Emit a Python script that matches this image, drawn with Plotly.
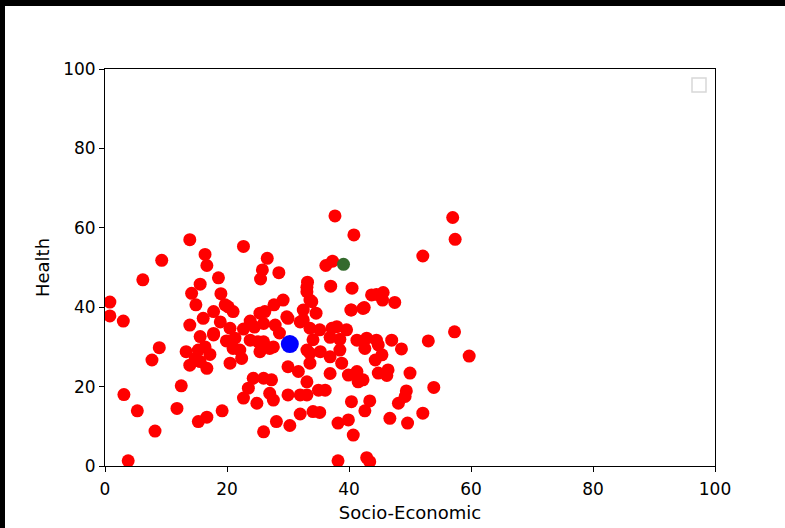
import plotly.graph_objects as go

# Red points (Socio-Economic, Health)
red_x = [0.8, 0.8, 3.0, 3.1, 3.8, 5.3, 6.2, 7.7, 8.2, 8.9, 9.3, 11.8, 12.5, 13.9, 16.4, 16.7, 18.6, 15.6,
         14.2, 19.0, 14.9, 13.9, 16.1, 17.8, 19.7, 13.3, 15.3, 17.2, 13.9, 15.6, 16.7, 14.8, 15.6, 17.8,
         19.9, 20.5, 15.3, 16.7, 19.2, 18.9, 16.4, 20.2, 17.8,
         22.7, 26.6, 25.8, 25.5, 28.5, 36.2, 37.3, 37.7, 40.8, 37.0, 40.5, 40.3, 33.2, 33.1, 33.6, 34.6,
         29.2, 27.7, 26.2, 25.4, 23.8, 21.0, 30.0, 32.0, 22.7, 29.8, 26.0, 20.5, 21.3, 22.1, 25.1, 27.6,
         32.5, 32.5, 33.6, 35.2, 38.0, 39.6, 36.9, 34.1, 40.4, 42.3, 37.2, 38.5, 41.3, 33.1, 35.3, 38.5,
         33.9, 33.1, 24.5, 27.9, 28.6,
         21.0, 22.4, 25.4, 27.0, 26.0, 23.8, 30.0, 31.7, 33.1, 33.6, 33.6, 36.9, 38.8, 36.9, 39.9, 41.3,
         24.3, 26.0, 27.3, 22.7, 23.5, 24.9, 27.0, 27.6, 30.0, 32.0, 33.1, 35.0, 36.1, 40.4, 32.0, 34.1,
         35.2, 28.1, 26.0, 30.3, 38.2, 39.9, 40.7, 38.2, 41.5,
         57.0, 57.4, 52.1, 43.7, 45.6, 45.5, 44.5, 47.5, 42.5, 57.3, 42.9, 44.5, 47.0, 53.0, 42.6, 44.8,
         48.6, 59.7, 44.3, 45.4, 44.8, 46.4, 46.2, 50.0, 42.3, 53.9, 49.4, 49.2, 48.1, 43.4, 42.6, 46.7,
         49.6, 52.1, 42.9, 43.4]
red_y = [41.3, 37.8, 36.5, 18.0, 1.3, 13.9, 46.9, 26.7, 8.8, 29.8, 51.8, 14.5, 20.2, 57.0, 53.3, 50.5, 47.4, 45.8,
         43.5, 43.4, 40.6, 35.5, 37.2, 38.9, 40.6, 28.8, 29.2, 28.1, 25.4, 26.3, 24.6, 27.1, 32.6, 33.0,
         31.5, 25.9, 11.2, 12.3, 13.9, 36.3, 30.0, 40.1, 33.4,
         55.3, 52.3, 49.4, 47.1, 48.7, 50.5, 51.6, 63.0, 58.2, 45.3, 44.8, 39.3, 46.3, 43.9, 41.8, 38.5,
         41.8, 40.6, 38.9, 38.5, 36.5, 38.9, 37.2, 36.3, 34.5, 37.6, 35.9, 34.7, 32.2, 29.2, 31.3, 30.0,
         36.8, 39.3, 34.7, 34.3, 35.1, 34.3, 32.4, 31.8, 39.3, 39.7, 34.7, 31.9, 31.7, 29.2, 28.8, 29.2,
         41.4, 45.0, 35.0, 35.5, 33.5,
         29.6, 27.1, 28.8, 29.6, 31.3, 31.7, 25.0, 23.8, 21.2, 28.4, 25.9, 27.5, 25.9, 23.3, 22.9, 23.8,
         22.1, 22.1, 21.7, 17.1, 19.6, 15.8, 18.3, 16.6, 17.9, 17.9, 17.9, 19.1, 19.1, 16.2, 13.1, 13.7,
         13.5, 11.2, 8.6, 10.2, 10.8, 11.6, 7.8, 1.3, 21.2,
         62.6, 57.1, 52.9, 43.1, 43.7, 41.8, 43.2, 41.2, 39.9, 33.8, 32.2, 31.7, 31.7, 31.5, 29.6, 30.5,
         29.5, 27.7, 26.7, 28.0, 23.4, 24.2, 22.8, 23.4, 21.7, 19.8, 18.9, 17.5, 15.8, 16.4, 13.9, 12.0,
         10.8, 13.3, 2.1, 1.1]

green_x = [39.1]
green_y = [50.8]
blue_x = [30.3]
blue_y = [30.7]

x_ticks = [0, 20, 40, 60, 80, 100]
y_ticks = [0, 20, 40, 60, 80, 100]

fig = go.Figure()
fig.add_trace(go.Scatter(x=red_x, y=red_y, mode="markers",
                         marker=dict(color="#ff0000", size=13, line=dict(width=0)), showlegend=False))
fig.add_trace(go.Scatter(x=green_x, y=green_y, mode="markers",
                         marker=dict(color="#346a2d", size=13, line=dict(width=0)), showlegend=False))
fig.add_trace(go.Scatter(x=blue_x, y=blue_y, mode="markers",
                         marker=dict(color="#0000ff", size=18, line=dict(width=0)), showlegend=False))

W, H = 785, 528
L, R, T, B = 105, 70, 69, 62
pw, ph = W - L - R, H - T - B

def px(xp):
    return (xp - L) / pw

def py(yp):
    return (H - B - yp) / ph

axis_common = dict(showgrid=False, zeroline=False, showline=True, linecolor="black", linewidth=1,
                   mirror=True, ticks="outside", ticklen=5, tickcolor="black", automargin=False,
                   tickfont=dict(family="DejaVu Sans", size=17, color="black"))

fig.update_layout(
    width=W, height=H,
    margin=dict(l=L, r=R, t=T, b=B),
    plot_bgcolor="white", paper_bgcolor="white",
    xaxis=dict(range=[0, 100], tickvals=x_ticks, ticklabelstandoff=3, **axis_common,
               title=dict(text="Socio-Economic", font=dict(family="DejaVu Sans", size=18, color="black"), standoff=7)),
    yaxis=dict(range=[0, 100], tickvals=y_ticks, **axis_common,
               title=dict(text="Health", font=dict(family="DejaVu Sans", size=18, color="black"), standoff=8)),
    shapes=[
        dict(type="rect", xref="paper", yref="paper", x0=px(0), x1=px(W), y0=py(0), y1=py(6),
             fillcolor="black", line=dict(width=0), layer="above"),
        dict(type="rect", xref="paper", yref="paper", x0=px(0), x1=px(5), y0=py(0), y1=py(H),
             fillcolor="black", line=dict(width=0), layer="above"),
        dict(type="rect", xref="paper", yref="paper", x0=px(692), x1=px(706), y0=py(78), y1=py(92),
             fillcolor="white", line=dict(color="#d8d8d8", width=1.5), layer="above"),
    ],
)

fig.write_html("out.html", config={"displayModeBar": False},
               post_script="document.body.style.margin='0px';document.body.style.overflow='hidden';")
